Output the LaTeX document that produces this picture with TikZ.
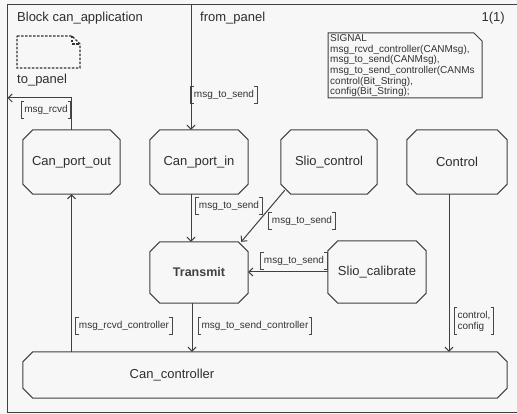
\documentclass[tikz,border=0pt]{standalone}
\usepackage{fontspec}
\setmainfont{Liberation Sans}
\usetikzlibrary{arrows.meta,calc}
\begin{document}
\begin{tikzpicture}[x=1pt,y=-1pt,
  line/.style={draw=black!75, line width=1pt},
  arr/.style={line, -{Straight Barb[length=4pt,width=8pt]}},
  blk/.style={minimum height=64pt, inner sep=0pt, font=\fontsize{13}{15}\selectfont, text=black!82},
  lbl/.style={font=\fontsize{10}{11}\selectfont, text=black!80, inner xsep=3pt, inner ysep=3.5pt, text height=7pt, text depth=2pt},
  lbltwo/.style={font=\fontsize{10}{11}\selectfont, text=black!80, inner xsep=3pt, inner ysep=3pt, align=left},
  brk/.style={draw=black!72, line width=0.9pt},
  dsh/.style={draw=black!80, line width=1.2pt, dash pattern=on 2.5pt off 1.5pt},
  ttl/.style={font=\fontsize{13}{15}\selectfont, text=black!82, inner sep=0pt, anchor=base west}
]
\useasboundingbox (0,0) rectangle (517,414);
\fill[black!3] (0,0) rectangle (517,414);
% outer frame
\draw[line] (7.5,5) rectangle (530,412);

% titles
\node[ttl] (title) at (17,22) {Block can\_application};
\node[ttl] (fpt) at (200,22) {from\_panel};
\node[ttl, anchor=base east] (page) at (505,22) {1(1)};
\node[ttl] (tpt) at (17,84) {to\_panel};

% dashed document symbol
\draw[dsh] (17,36) -- (72,36) -- (80,44) -- (80,68) -- (17,68) -- cycle;
\draw[dsh] (72,36) -- (72,44) -- (80,44);

% signal box
\draw[line] (328,33) -- (474,33) -- (482,41) -- (482,98) -- (328,98) -- cycle;
\node[anchor=north west, inner sep=0pt, align=left, font=\fontsize{10}{10.6}\selectfont, text=black!80] (sig) at (330,34.5)
  {SIGNAL\\msg\_rcvd\_controller(CANMsg),\\msg\_to\_send(CANMsg),\\msg\_to\_send\_controller(CANMs\\control(Bit\_String),\\config(Bit\_String);};

% blocks
\node[blk, minimum width=97pt] (cpo) at (71.5,162) {Can\_port\_out};
\node[blk, minimum width=98pt] (cpi) at (199,162) {Can\_port\_in};
\node[blk, minimum width=96pt] (sc) at (329,162) {Slio\_control};
\node[blk, minimum width=100pt] (ctl) at (457,162) {Control};
\node[blk, minimum width=98pt, minimum height=61pt, font=\bfseries\fontsize{12.5}{15}\selectfont, text=black!75] (trn) at (199,272.5) {Transmit};
\node[blk, minimum width=98pt, minimum height=62pt] (scal) at (377,272) {Slio\_calibrate};
\node[blk, minimum width=484pt, minimum height=46pt] (cc) at (265,375) {};
\node[blk, minimum height=0pt] (cct) at (172,375) {Can\_controller};

\foreach \n in {cpo,cpi,sc,ctl,trn,scal,cc}
  \draw[line] ([xshift=10pt]\n.north west) -- ([xshift=-10pt]\n.north east) -- ([yshift=-10pt]\n.north east)
    -- ([yshift=10pt]\n.south east) -- ([xshift=-10pt]\n.south east) -- ([xshift=10pt]\n.south west)
    -- ([yshift=10pt]\n.south west) -- ([yshift=-10pt]\n.north west) -- cycle;

% connectors
\coordinate (fp) at (191,5);
\draw[arr] (fp) -- (fp |- cpi.north);
\coordinate (lf) at (7.5,98);
\draw[arr] (cpo.north) |- (lf);
\draw[arr] ([xshift=-8pt]cpi.south) -- ([xshift=-8pt]trn.north);
\draw[arr] ([xshift=4pt,yshift=4pt]sc.south west) -- ([xshift=-7pt]trn.north east);
\draw[arr] (scal.west) -- (scal.west -| trn.east);
\draw[arr] ([xshift=-7pt]trn.south) -- ([xshift=-7pt]trn.south |- cc.north);
\draw[arr] (cpo.south |- cc.north) -- (cpo.south);
\draw[arr] ([xshift=-8pt]ctl.south) -- ([xshift=-8pt]ctl.south |- cc.north);

% signal labels
\node[lbl] (l1) at (46,110) {msg\_rcvd};
\node[lbl] (l2) at (224,95) {msg\_to\_send};
\node[lbl] (l3) at (229,206) {msg\_to\_send};
\node[lbl] (l4) at (302,221) {msg\_to\_send};
\node[lbl] (l5) at (294,261) {msg\_to\_send};
\node[lbl] (l6) at (124,326) {msg\_rcvd\_controller};
\node[lbl] (l7) at (255,326) {msg\_to\_send\_controller};
\node[lbltwo] (l8) at (474,321) {control,\\config};

\foreach \n in {l1,l2,l3,l4,l5,l6,l7,l8} {
  \draw[brk] ([xshift=3pt]\n.north west) -- (\n.north west) -- (\n.south west) -- ([xshift=3pt]\n.south west);
  \draw[brk] ([xshift=-3pt]\n.north east) -- (\n.north east) -- (\n.south east) -- ([xshift=-3pt]\n.south east);
}
\end{tikzpicture}
\end{document}
